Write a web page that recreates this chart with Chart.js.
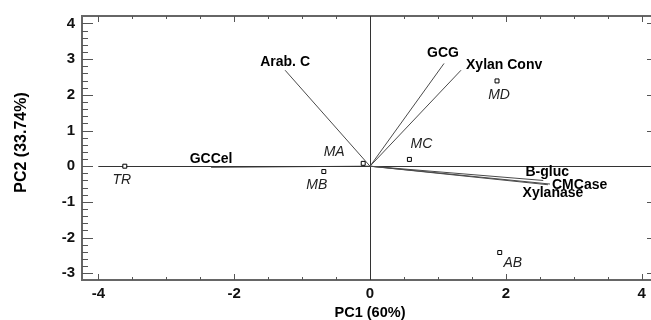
<!DOCTYPE html>
<html>
<head>
<meta charset="utf-8">
<script src="https://cdn.jsdelivr.net/npm/chart.js@4.4.1/dist/chart.umd.min.js"></script>
<style>
  html, body { margin: 0; padding: 0; background: #fff; overflow: hidden; }
  /* the right frame of the original plot lies just past the picture edge */
  #wrap { width: 663px; height: 320px; }
</style>
</head>
<body>
<div id="wrap"><canvas id="myChart"></canvas></div>
<script>
// サンプル（スコア）
const sampleNames = ['TR', 'MB', 'MA', 'MC', 'MD', 'AB']
const samplePC1 = [-3.61, -0.68, -0.10, 0.58, 1.87, 1.91]
const samplePC2 = [0.00, -0.15, 0.08, 0.19, 2.39, -2.42]

// 変数（ローディング）
const varNames = ['Arab. C', 'GCG', 'Xylan Conv', 'GCCel', 'B-gluc', 'CMCase', 'Xylanase']
const varPC1 = [-1.25, 1.09, 1.34, -2.34, 2.55, 2.65, 2.62]
const varPC2 = [2.69, 2.88, 2.69, -0.03, -0.40, -0.50, -0.52]

// 目盛りラベル
const xTickLabels = [-4, -2, 0, 2, 4]
const yTickLabels = [-3, -2, -1, 0, 1, 2, 3, 4]
const xMinorStep = 0.5
const yMinorStep = 0.2

// ラベル位置の微調整 (px) — データではなくレイアウト
const sampleLabelOffset = [[-3, 14], [-7, 14], [-29, -11], [12, -15], [2, 14], [13, 11]]
const varLabelOffset = [[0, -8], [-1, -10], [5, -5], [0, -8.5], [4, -8.5], [2, 1], [5, 8.5]]
const varLabelAlign = ['center', 'center', 'left', 'center', 'center', 'left', 'center']

const FONT = '"Liberation Sans", Arial, sans-serif'

const isLabel = (v, list) => list.some((t) => Math.abs(t - v) < 1e-6)

// 目盛り位置: ラベル付きの範囲を細かい刻みで埋める
const tickValues = (labels, step) => {
  const out = []
  const first = labels[0]
  const n = Math.round((labels[labels.length - 1] - first) / step)
  for (let i = 0; i <= n; i++) out.push({ value: Math.round((first + i * step) * 100) / 100 })
  return out
}

const samplePoints = sampleNames.map((n, i) => ({ x: samplePC1[i], y: samplePC2[i] }))

const vectorSets = varNames.map((n, i) => ({
  type: 'line',
  label: n,
  data: [{ x: 0, y: 0 }, { x: varPC1[i], y: varPC2[i] }],
  borderColor: i === 3 ? '#333' : '#4a4a4a',
  borderWidth: 1,
  pointRadius: 0,
  showLine: true,
  fill: false,
}))

// 枠・目盛り・原点の線
const framePlugin = {
  id: 'frame',
  beforeDatasetsDraw(chart) {
    const { ctx, chartArea: a, scales: { x, y } } = chart
    ctx.save()
    ctx.strokeStyle = '#666'
    ctx.lineWidth = 2
    ctx.strokeRect(a.left, a.top, a.right - a.left, a.bottom - a.top)

    ctx.strokeStyle = '#555'
    ctx.lineWidth = 1
    ctx.beginPath()
    x.ticks.forEach((t) => {
      const px = Math.round(x.getPixelForValue(t.value)) + 0.5
      const len = isLabel(t.value, xTickLabels) ? 6 : 3
      ctx.moveTo(px, a.top)
      ctx.lineTo(px, a.top + len)
      ctx.moveTo(px, a.bottom)
      ctx.lineTo(px, a.bottom - len)
    })
    y.ticks.forEach((t) => {
      const py = Math.round(y.getPixelForValue(t.value)) + 0.5
      const len = isLabel(t.value, yTickLabels) ? 11 : 6
      ctx.moveTo(a.left, py)
      ctx.lineTo(a.left + len, py)
      ctx.moveTo(a.right, py)
      ctx.lineTo(a.right - len, py)
    })
    ctx.stroke()

    // 原点を通る線
    const x0 = Math.round(x.getPixelForValue(0)) + 0.5
    const y0 = Math.round(y.getPixelForValue(0)) + 0.5
    ctx.strokeStyle = '#333'
    ctx.beginPath()
    ctx.moveTo(x0, a.top)
    ctx.lineTo(x0, a.bottom)
    ctx.moveTo(x.getPixelForValue(xTickLabels[0]), y0)
    ctx.lineTo(a.right, y0)
    ctx.stroke()
    ctx.restore()
  },
  afterDatasetsDraw(chart) {
    const { ctx, chartArea: a } = chart
    ctx.save()
    ctx.textBaseline = 'middle'

    // サンプル名（斜体）
    ctx.font = 'italic 14px ' + FONT
    ctx.fillStyle = '#222'
    ctx.textAlign = 'center'
    chart.getDatasetMeta(0).data.forEach((pt, i) => {
      ctx.fillText(sampleNames[i], pt.x + sampleLabelOffset[i][0], pt.y + sampleLabelOffset[i][1])
    })

    // 変数名（太字）
    ctx.font = 'bold 14px ' + FONT
    ctx.fillStyle = '#000'
    varNames.forEach((n, i) => {
      const end = chart.getDatasetMeta(i + 1).data[1]
      ctx.textAlign = varLabelAlign[i]
      ctx.fillText(n, end.x + varLabelOffset[i][0], end.y + varLabelOffset[i][1])
    })

    // 軸タイトル
    ctx.textAlign = 'center'
    ctx.font = 'bold 14.5px ' + FONT
    ctx.fillText('PC1 (60%)', (a.left + a.right) / 2, a.bottom + 33)
    ctx.translate(a.left - 60, (a.top + a.bottom) / 2 - 5.5)
    ctx.rotate(-Math.PI / 2)
    ctx.font = 'bold 16px ' + FONT
    ctx.fillText('PC2 (33.74%)', 0, 0)
    ctx.restore()
  },
}

const ctx = document.getElementById('myChart').getContext('2d')
const myChart = new Chart(ctx, {
  type: 'scatter',
  data: {
    datasets: [
      {
        label: 'samples',
        data: samplePoints,
        pointStyle: 'rect',
        pointRadius: 2.8,
        pointBorderWidth: 1,
        pointBorderColor: '#000',
        pointBackgroundColor: '#fff',
      },
      ...vectorSets,
    ],
  },
  options: {
    responsive: true,
    maintainAspectRatio: false,
    animation: false,
    layout: { padding: { left: 0, right: 2, top: 16, bottom: 0 } },
    plugins: {
      legend: { display: false },
      tooltip: { enabled: false },
    },
    scales: {
      x: {
        type: 'linear',
        bounds: 'data',
        min: -4.24,
        max: 4.24,
        grid: { display: false, drawTicks: false },
        border: { display: false },
        afterBuildTicks: (s) => { s.ticks = tickValues(xTickLabels, xMinorStep) },
        ticks: {
          autoSkip: false,
          maxRotation: 0,
          padding: 5,
          color: '#111',
          font: { family: FONT, size: 15, weight: 'bold' },
          callback: (v) => (isLabel(v, xTickLabels) ? String(Math.round(v)) : ''),
        },
        afterFit: (s) => { s.height = 40 },
      },
      y: {
        type: 'linear',
        bounds: 'data',
        min: -3.19,
        max: 4.21,
        grid: { display: false, drawTicks: false },
        border: { display: false },
        afterBuildTicks: (s) => { s.ticks = tickValues(yTickLabels, yMinorStep) },
        ticks: {
          autoSkip: false,
          padding: 7,
          color: '#111',
          font: { family: FONT, size: 15, weight: 'bold' },
          callback: (v) => (isLabel(v, yTickLabels) ? String(Math.round(v)) : ''),
        },
        afterFit: (s) => { s.width = 82 },
      },
    },
  },
  plugins: [framePlugin],
})
</script>
</body>
</html>
